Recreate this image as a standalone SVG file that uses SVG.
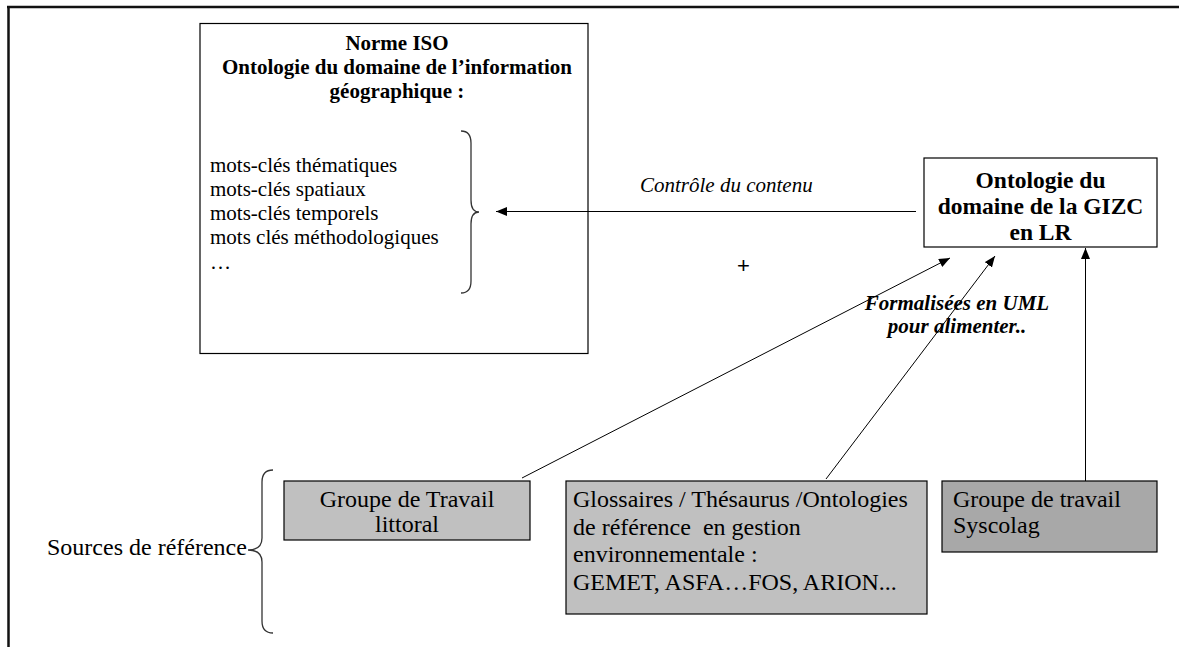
<svg xmlns="http://www.w3.org/2000/svg" width="1179" height="647" viewBox="0 0 1179 647">
<style>
text{font-family:"Liberation Serif","Times New Roman",serif;fill:#000}
.t21{font-size:21px}
.b21{font-size:21px;font-weight:bold}
.b24{font-size:23.5px;font-weight:bold}
.r24{font-size:24px}
.it{font-style:italic}
.box{stroke:#000;stroke-width:1.2}
.conn{stroke:#000;stroke-width:1;fill:none}
.brace{stroke:#333;stroke-width:1.3;fill:none}
</style>
<defs>
<marker id="ah" markerUnits="userSpaceOnUse" markerWidth="12" markerHeight="10" refX="11" refY="4.5" orient="auto">
<path d="M0,0 L11,4.5 L0,9 Z" fill="#000"/>
</marker>
</defs>
<rect width="1179" height="647" fill="#fff"/>
<g id="frame">
<line x1="7" y1="7" x2="1179" y2="7" stroke="#111" stroke-width="2.5"/>
<line x1="8.5" y1="6" x2="8.5" y2="647" stroke="#111" stroke-width="2.5"/>
</g>
<g id="iso">
<rect class="box" x="200" y="23.5" width="388" height="330" fill="#fff" stroke="#333"/>
<text class="b21" text-anchor="middle" x="397" y="50">Norme ISO</text>
<text class="b21" text-anchor="middle" x="397" y="74">Ontologie du domaine de l’information</text>
<text class="b21" text-anchor="middle" x="397" y="98">géographique :</text>
<text class="t21" x="210" y="172">mots-clés thématiques</text>
<text class="t21" x="210" y="196">mots-clés spatiaux</text>
<text class="t21" x="210" y="220">mots-clés temporels</text>
<text class="t21" x="210" y="244">mots clés méthodologiques</text>
<text class="t21" x="210" y="269">…</text>
<path class="brace" d="M461,131 Q471,131 471,143 L471,200 Q471,212 479,212 Q471,212 471,224 L471,281 Q471,293 461,293"/>
</g>
<g id="gizc">
<rect class="box" x="924" y="158" width="233" height="89" fill="#fff"/>
<text class="b24" text-anchor="middle" x="1040.5" y="188">Ontologie du</text>
<text class="b24" text-anchor="middle" x="1040.5" y="214">domaine de la GIZC</text>
<text class="b24" text-anchor="middle" x="1040.5" y="240">en LR</text>
</g>
<g id="plus">
<text text-anchor="middle" x="743.5" y="273" style="font-family:'Liberation Sans',Arial,sans-serif;font-size:22px">+</text>
</g>
<g id="sources">
<text class="r24" x="47" y="555">Sources de référence</text>
<path class="brace" d="M273,470 Q262,470 262,482 L262,538 Q262,550 248,550 Q262,550 262,562 L262,621 Q262,633 273,633"/>
</g>
<g id="littoral">
<rect class="box" x="284" y="481" width="246" height="59" fill="#c0c0c0"/>
<text class="r24" text-anchor="middle" x="407" y="507">Groupe de Travail</text>
<text class="r24" text-anchor="middle" x="407" y="532">littoral</text>
</g>
<g id="glossaires">
<rect class="box" x="566" y="481" width="361" height="133" fill="#c0c0c0"/>
<text class="r24" x="573" y="507" xml:space="preserve">Glossaires / Thésaurus /Ontologies</text>
<text class="r24" x="573" y="535" xml:space="preserve">de référence  en gestion</text>
<text class="r24" x="573" y="562">environnementale :</text>
<text class="r24" x="573" y="590">GEMET, ASFA…FOS, ARION...</text>
</g>
<g id="syscolag">
<rect class="box" x="942" y="481" width="215" height="71" fill="#a8a8a8"/>
<text class="r24" x="953" y="507">Groupe de travail</text>
<text class="r24" x="953" y="533">Syscolag</text>
</g>
<g id="connectors">
<line class="conn" x1="916" y1="211.5" x2="496" y2="211.5" stroke="#333" marker-end="url(#ah)"/>
<line class="conn" x1="522" y1="478" x2="950" y2="258" marker-end="url(#ah)"/>
<line class="conn" x1="826" y1="479" x2="995" y2="256" marker-end="url(#ah)"/>
<line class="conn" x1="1085.5" y1="481" x2="1085.5" y2="248" stroke="#333" marker-end="url(#ah)"/>
<text class="t21 it" x="640" y="192">Contrôle du contenu</text>
<text class="b21 it" text-anchor="middle" x="957" y="310">Formalisées en UML</text>
<text class="b21 it" text-anchor="middle" x="957" y="333">pour alimenter..</text>
</g>
</svg>
